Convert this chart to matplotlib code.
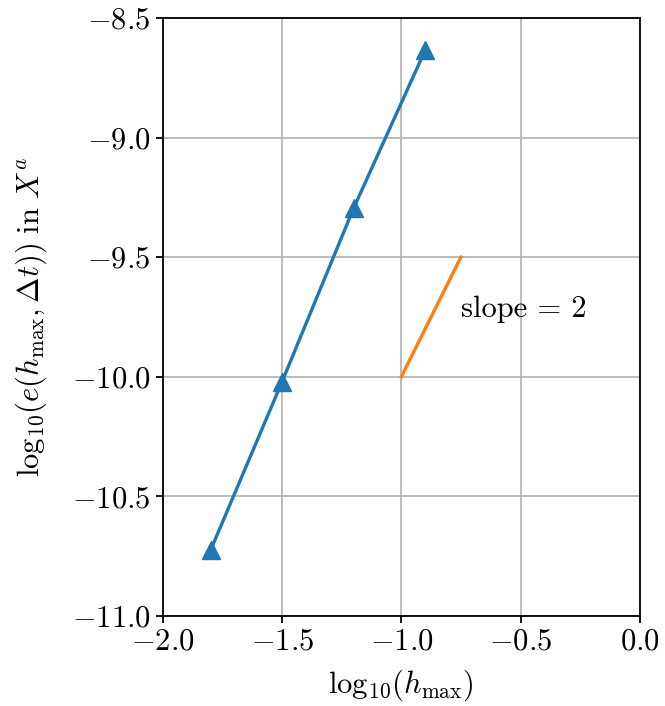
import matplotlib
matplotlib.use("Agg")
import matplotlib.pyplot as plt
from matplotlib.ticker import FuncFormatter

plt.rcParams['mathtext.fontset'] = 'cm'
plt.rcParams['font.family'] = 'serif'
plt.rcParams['font.serif'] = ['cmr10', 'DejaVu Serif']
plt.rcParams['axes.unicode_minus'] = False

# data
log_h = [-1.8, -1.5, -1.2, -0.9]
log_err = [-10.725, -10.02, -9.295, -8.635]

slope_x = [-1.0, -0.75]
slope_y = [-10.0, -9.5]

fs = 22

fig = plt.figure(figsize=(6.65, 7.06), dpi=100)
ax = fig.add_axes([0.245, 0.1275, 0.717, 0.847])

ax.plot(log_h, log_err, color='#1f77b4', lw=2.4, marker='^', ms=13.5, zorder=3)
ax.plot(slope_x, slope_y, color='#ff7f0e', lw=2.4, zorder=3)
ax.text(-0.75, -9.75, 'slope = 2', fontsize=fs, family='cmr10')

ax.set_xlim(-2.0, 0.0)
ax.set_ylim(-11.0, -8.5)
ax.set_xticks([-2.0, -1.5, -1.0, -0.5, 0.0])
ax.set_yticks([-11.0, -10.5, -10.0, -9.5, -9.0, -8.5])
fmt = FuncFormatter(lambda v, p: r'$%.1f$' % v)
ax.xaxis.set_major_formatter(fmt)
ax.yaxis.set_major_formatter(fmt)
ax.tick_params(labelsize=fs, width=1.3, length=5, pad=4)
for s in ax.spines.values():
    s.set_linewidth(1.3)

ax.grid(True, color='#b0b0b0', lw=1.2)
ax.set_axisbelow(True)

ax.set_xlabel(r'$\mathrm{log}_{10}(h_{\mathrm{max}})$', fontsize=fs, labelpad=8)
ax.set_ylabel(r'$\mathrm{log}_{10}(e(h_{\mathrm{max}}, \Delta t))\ \mathrm{in}\ X^a$', fontsize=fs, labelpad=16)

fig.savefig('out.png')
